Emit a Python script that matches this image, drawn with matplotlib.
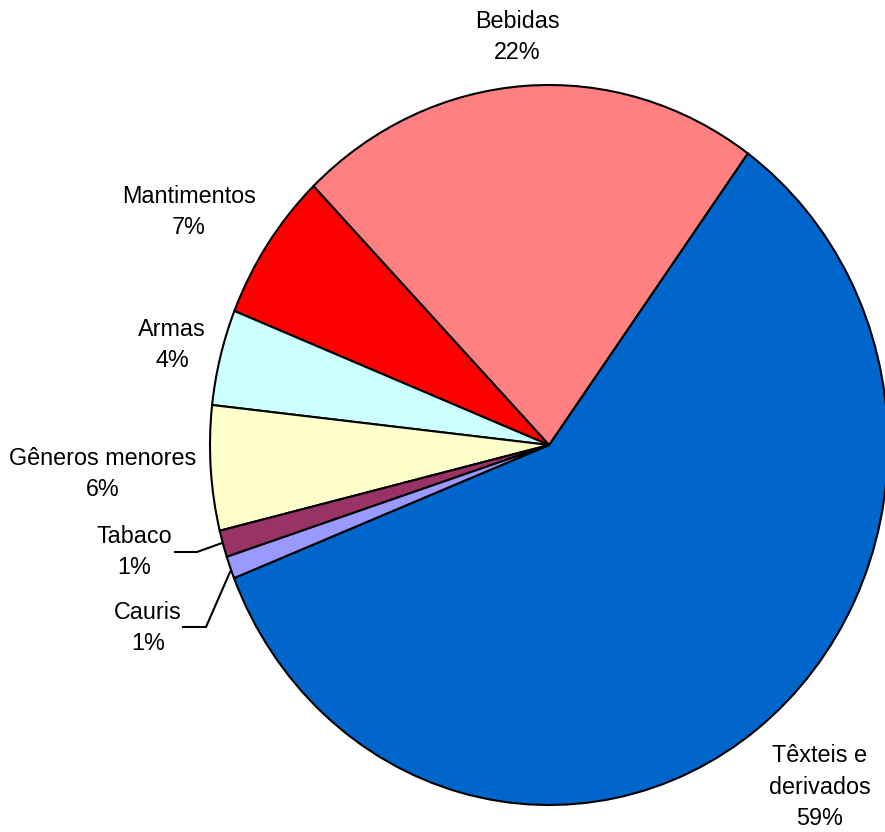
import matplotlib.pyplot as plt

categories = ["Têxteis e\nderivados", "Bebidas", "Mantimentos", "Armas",
              "Gêneros menores", "Tabaco", "Cauris"]
shares = [59.0, 22.2, 6.7, 4.3, 5.6, 1.2, 1.0]
colors = ["#0066CC", "#FF8080", "#FF0000", "#CCFFFF", "#FFFFCC", "#993366", "#9999FF"]

# label anchor positions in pixels (centre of the text block)
label_px = [(820, 787), (517, 37), (189, 212), (172, 345), (103, 474), (134, 552), (148, 628)]

W, H = 885, 832
cx, cy = 549, 445      # pie centre (px)
rx, ry = 339, 360      # pie radii (px)

fig = plt.figure(figsize=(W / 100, H / 100), dpi=100)
ax = fig.add_axes([0, 0, 1, 1])

ax.pie(shares, colors=colors, startangle=201.7, counterclock=True,
       wedgeprops=dict(edgecolor="black", linewidth=1.5))

ax.set_aspect("auto")
ax.set_xlim(-cx / rx, (W - cx) / rx)
ax.set_ylim(-(H - cy) / ry, cy / ry)
ax.axis("off")


def px(x, y):
    return (x - cx) / rx, (cy - y) / ry


total = sum(shares)
for name, val, (x, y) in zip(categories, shares, label_px):
    ax.text(*px(x, y), f"{name}\n{round(val / total * 100)}%", ha="center", va="center",
            fontsize=16.8, family="Liberation Sans", linespacing=1.45)

# leader lines for the small slices
for pts in [[(175, 552), (197, 552), (222, 543)], [(183, 627), (206, 627), (230, 572)]]:
    xy = [px(*p) for p in pts]
    ax.plot([p[0] for p in xy], [p[1] for p in xy], color="black", linewidth=1.5)

fig.savefig("out.png", dpi=100)
